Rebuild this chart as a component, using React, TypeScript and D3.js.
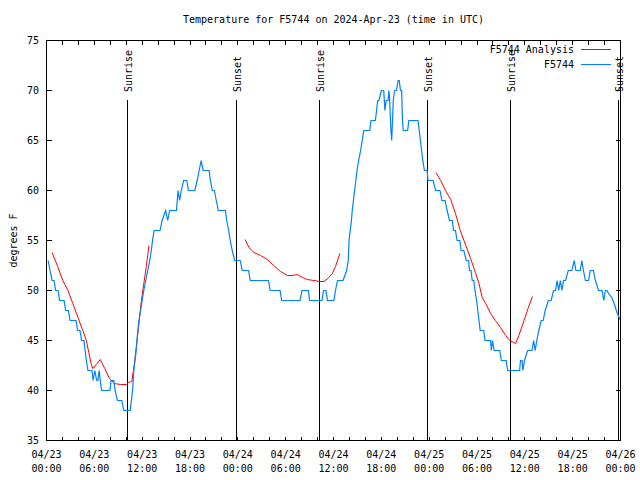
import React from 'react';
import * as d3 from 'd3';

const titleText = 'Temperature for F5744 on 2024-Apr-23 (time in UTC)';
const yAxisLabel = 'degrees F';
const analysisName = 'F5744 Analysis';
const obsName = 'F5744';
const yTickValues = [35, 40, 45, 50, 55, 60, 65, 70, 75];
const startIso = '2024-04-23T00:00:00Z';
const spanHours = 72;
const sunriseHours = [10.2, 34.25, 58.25];
const sunsetHours = [23.8, 47.85, 71.8];

// Observations (hours since 04/23 00:00 UTC, degrees F)
const obsHours = [
  0.2, 0.45, 0.7, 0.95, 1.15, 1.45, 1.65, 2.2, 2.4, 2.75, 2.95, 3.7, 3.9, 4.2, 4.4, 4.7, 4.85, 5.0, 5.2, 5.7,
  5.85, 6.05, 6.3, 6.45, 6.6, 6.75, 6.9, 7.95, 8.1, 8.45, 8.6, 8.9, 9.45, 9.7, 10.5, 10.65, 10.8, 10.95, 11.1, 11.25,
  11.45, 11.6, 11.8, 12.0, 12.2, 12.45, 12.7, 12.95, 13.15, 13.3, 13.5, 14.25, 14.5, 14.95, 15.2, 15.45, 16.3, 16.5, 16.7, 16.9,
  17.2, 17.6, 17.8, 18.6, 18.9, 19.15, 19.4, 19.65, 20.4, 20.55, 20.8, 21.05, 21.3, 21.55, 22.45, 22.6, 22.85, 23.05, 23.3, 23.6,
  24.3, 24.55, 25.35, 25.55, 27.85, 28.05, 29.3, 29.5, 31.8, 32.05, 32.85, 33.0, 34.55, 34.75, 35.05, 35.25, 36.05, 36.25, 36.5, 37.2,
  37.65, 37.85, 37.95, 38.1, 38.25, 38.35, 38.5, 38.65, 38.8, 38.95, 39.15, 39.4, 39.6, 39.8, 40.55, 40.7, 41.25, 41.4, 41.55, 41.7,
  42.0, 42.3, 42.45, 42.6, 42.85, 42.95, 43.05, 43.2, 43.3, 43.4, 43.5, 43.65, 43.9, 44.1, 44.25, 44.4, 44.55, 44.65, 44.75, 45.3,
  45.45, 46.6, 46.75, 46.9, 47.05, 47.2, 47.4, 47.75, 47.85, 48.5, 48.8, 49.35, 49.6, 50.0, 50.25, 50.55, 50.9, 51.05, 51.3, 51.5,
  51.85, 52.0, 52.35, 52.65, 52.95, 53.05, 53.25, 53.4, 53.6, 53.75, 53.95, 54.1, 54.25, 54.4, 54.85, 55.0, 55.7, 55.8, 55.95, 56.15,
  56.85, 57.05, 57.65, 57.85, 59.35, 59.45, 59.65, 59.75, 59.95, 60.35, 60.9, 61.1, 61.3, 61.5, 61.75, 62.05, 62.3, 62.55, 62.95, 63.3,
  63.6, 63.85, 64.05, 64.25, 64.45, 64.65, 64.85, 65.1, 65.45, 65.9, 66.2, 66.4, 66.95, 67.15, 67.35, 67.6, 68.0, 68.2, 68.6, 68.85,
  69.25, 69.7, 69.9, 70.1, 70.3, 70.5, 70.9, 71.2, 71.6, 72.0,
];
const obsTemps = [
  53, 52, 51, 51, 50, 50, 49, 49, 48, 48, 47, 47, 46, 46, 45, 45, 44, 43, 42, 42,
  41, 42, 41, 41, 42, 41, 40, 40, 41, 41, 40, 39, 39, 38, 38, 39, 40, 42, 43, 44,
  46, 47, 48, 49, 50, 51, 52, 53, 54, 55, 56, 56, 57, 58, 57, 58, 58, 60, 59, 60,
  61, 61, 60, 60, 61, 62, 63, 62, 62, 61, 60, 60, 59, 58, 58, 57, 56, 55, 54, 53,
  53, 52, 52, 51, 51, 50, 50, 49, 49, 50, 50, 49, 49, 50, 50, 49, 49, 50, 51, 51,
  52, 53, 55, 56, 57, 58, 59, 60, 61, 62, 63, 64, 65, 66, 66, 67, 67, 68, 69, 69,
  70, 70, 68, 69, 69, 70, 69, 66, 65, 67, 69, 70, 70, 71, 71, 70, 70, 67, 66, 66,
  67, 67, 66, 65, 64, 63, 62, 62, 61, 61, 60, 60, 59, 59, 58, 57, 57, 56, 56, 55,
  55, 54, 54, 53, 53, 52, 52, 51, 51, 50, 49, 48, 47, 46, 46, 45, 45, 44, 45, 44,
  44, 43, 43, 42, 42, 43, 43, 42, 43, 44, 44, 45, 44, 45, 46, 47, 47, 48, 49, 49,
  50, 50, 51, 50, 51, 50, 51, 51, 52, 52, 53, 52, 52, 53, 52, 51, 51, 52, 52, 51,
  50, 50, 49, 50, 50, 49.7, 49.3, 48.7, 47.7, 47,
];

// Analysis (null separates segments)
const analysisHours = [
  0.7, 1.4, 2.05, 2.7, 3.3, 3.95, 4.55, 5.0, 5.3, 5.6, 5.8, 6.25, 6.75, 7.3, 7.9, 8.5, 9.3, 10.0, 10.3, 10.7, 11.0, 11.5, 11.9, 12.5, 12.85,
  18,
  24.9, 25.4, 26.0, 26.85, 27.7, 28.5, 29.35, 30.2, 30.8, 31.45, 32.1, 32.7, 33.55, 34.2, 34.8, 35.3, 35.85, 36.25, 36.8,
  42,
  48.85, 49.45, 50.05, 50.7, 51.3, 51.9, 52.6, 53.2, 53.8, 54.25, 54.65, 55.1, 55.7, 56.3, 56.95, 57.6, 58.1, 58.85, 59.25, 59.9, 60.4, 60.95,
];
const analysisTemps: (number | null)[] = [
  53.8, 52.4, 51, 50, 48.7, 47.3, 46, 45, 43.8, 42.7, 42.2, 42.6, 43.1, 42.2, 41.2, 40.7, 40.6, 40.6, 40.8, 40.9, 42.5, 46, 49, 52.3, 54.5,
  null,
  55.1, 54.3, 53.8, 53.5, 53.1, 52.5, 51.9, 51.5, 51.5, 51.6, 51.3, 51.1, 51.0, 50.9, 50.9, 51.2, 51.7, 52.4, 53.7,
  null,
  61.8, 61, 60, 59.1, 57.7, 56, 54.5, 53.2, 51.8, 50.7, 49.3, 48.7, 47.7, 47, 46.3, 45.5, 45, 44.7, 45.5, 47, 48.2, 49.4,
];

const FONT = '"DejaVu Sans Mono", "Liberation Mono", monospace';
const BLUE = '#0080ff';
const RED = '#ff0000';

export default function App() {
  const t0 = new Date(startIso);
  const toDate = (h: number) => new Date(t0.getTime() + h * 3600 * 1000);
  const left = 46.5, right = 620.5, top = 40.5, bottom = 440.5;
  const x = d3.scaleUtc().domain([t0, toDate(spanHours)]).range([left, right]);
  const y = d3.scaleLinear().domain([35, 75]).range([bottom, top]);

  const obs = obsHours.map((h, i) => ({ t: toDate(h), v: obsTemps[i] as number | null }));
  const ana = analysisHours.map((h, i) => ({ t: toDate(h), v: analysisTemps[i] }));
  const line = d3
    .line<{ t: Date; v: number | null }>()
    .defined((d) => d.v !== null)
    .x((d) => x(d.t))
    .y((d) => y(d.v as number));

  const minorTicks = x.ticks(d3.utcHour.every(2)!);
  const majorTicks = x.ticks(d3.utcHour.every(6)!);
  const fmtDay = d3.utcFormat('%m/%d');
  const fmtTime = d3.utcFormat('%H:%M');

  const sunLines = [
    ...sunriseHours.map((h) => ({ h, label: 'Sunrise' })),
    ...sunsetHours.map((h) => ({ h, label: 'Sunset' })),
  ];

  return (
    <svg
      width={640}
      height={480}
      style={{ position: 'absolute', left: 0, top: 0, background: '#fff' }}
      fontFamily={FONT}
      fontSize={10}
    >
      <rect x={0} y={0} width={640} height={480} fill="#fff" />
      <text x={333.5} y={23} textAnchor="middle" fill="#000">
        {titleText}
      </text>

      {/* sunrise / sunset lines */}
      {sunLines.map((s, i) => {
        const xx = Math.round(x(toDate(s.h)) - 0.5) + 0.5;
        return (
          <g key={'sun' + i}>
            <line x1={xx} x2={xx} y1={100} y2={bottom} stroke="#000" strokeWidth={1} shapeRendering="crispEdges" />
            <text transform={`translate(${xx},92) rotate(-90)`} y={4} fill="#000">
              {s.label}
            </text>
          </g>
        );
      })}

      {/* ticks */}
      {minorTicks.map((d, i) => {
        const xx = Math.round(x(d) - 0.5) + 0.5;
        return (
          <g key={'xt' + i} stroke="#000" shapeRendering="crispEdges">
            <line x1={xx} x2={xx} y1={bottom} y2={bottom - 4} />
            <line x1={xx} x2={xx} y1={top} y2={top + 4} />
          </g>
        );
      })}
      {yTickValues.map((v, i) => (
        <g key={'yt' + i}>
          <line x1={left} x2={left + 5} y1={y(v)} y2={y(v)} stroke="#000" shapeRendering="crispEdges" />
          <line x1={right} x2={right - 5} y1={y(v)} y2={y(v)} stroke="#000" shapeRendering="crispEdges" />
          <text x={39} y={y(v) + 3.5} textAnchor="end" fill="#000">
            {v}
          </text>
        </g>
      ))}
      {majorTicks.map((d, i) => (
        <text key={'xl' + i} x={x(d)} textAnchor="middle" fill="#000">
          <tspan x={x(d)} y={458}>
            {fmtDay(d)}
          </tspan>
          <tspan x={x(d)} y={471.5}>
            {fmtTime(d)}
          </tspan>
        </text>
      ))}

      {/* data */}
      <path d={line(ana) || ''} fill="none" stroke={RED} strokeWidth={1} />
      <path d={line(obs) || ''} fill="none" stroke={BLUE} strokeWidth={1.2} />

      {/* border */}
      <rect x={left} y={top} width={right - left} height={bottom - top} fill="none" stroke="#000" shapeRendering="crispEdges" />

      {/* legend */}
      <text x={574} y={53} textAnchor="end" fill="#000">
        {analysisName}
      </text>
      <line x1={581} x2={611} y1={49.5} y2={49.5} stroke={RED} strokeWidth={1} />
      <text x={574} y={68} textAnchor="end" fill="#000">
        {obsName}
      </text>
      <line x1={581} x2={611} y1={64.5} y2={64.5} stroke={BLUE} strokeWidth={1} />

      <text transform="translate(13,240.5) rotate(-90)" textAnchor="middle" dy="0.35em" fill="#000">
        {yAxisLabel}
      </text>
    </svg>
  );
}
